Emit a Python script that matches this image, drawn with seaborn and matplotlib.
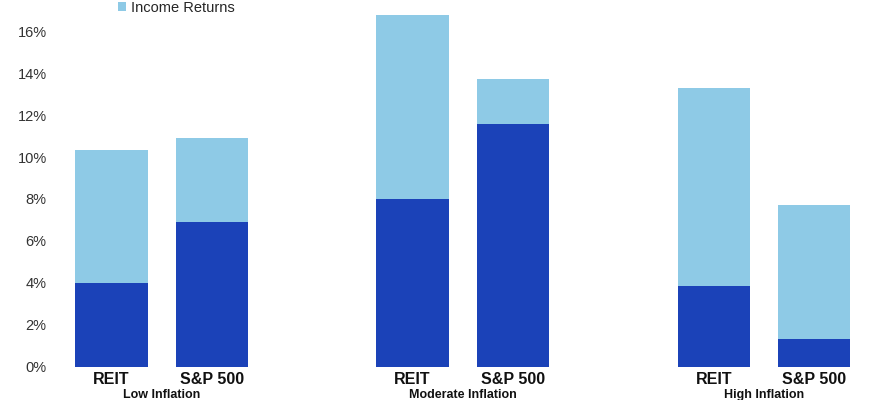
import matplotlib.pyplot as plt
import numpy as np
import pandas as pd
import seaborn as sns
from matplotlib.patches import Patch
from matplotlib.transforms import blended_transform_factory

# values (percent)
groups = ['Low Inflation', 'Moderate Inflation', 'High Inflation']
assets = ['REIT', 'S&P 500']
price_returns = [4.0, 6.92, 8.02, 11.56, 3.82, 1.29]
income_returns = [6.36, 3.97, 8.78, 2.19, 9.50, 6.40]
yticks = [0, 2, 4, 6, 8, 10, 12, 14, 16]

dark = '#1b42b8'
light = '#8ecae6'

# two bars per group, a gap of one slot between groups
pos = [0, 1, 3, 4, 6, 7]
df = pd.DataFrame({'pos': pos, 'price': price_returns, 'income': income_returns})
df['total'] = df['price'] + df['income']

sns.set_style('white')
plt.rcParams['font.family'] = ['Liberation Sans', 'DejaVu Sans']
narrow = ['Liberation Sans Narrow', 'Liberation Sans', 'DejaVu Sans']

fig = plt.figure(figsize=(8.7, 4), dpi=100)
ax = fig.add_axes([55 / 870, 33.5 / 400, 815 / 870, 366.5 / 400])

sns.barplot(data=df, x='pos', y='total', native_scale=True, color=light,
            saturation=1, width=0.72, errorbar=None, linewidth=0, ax=ax)
sns.barplot(data=df, x='pos', y='price', native_scale=True, color=dark,
            saturation=1, width=0.72, errorbar=None, linewidth=0, ax=ax)

ax.set_xlim(-0.563, 7.558)
ax.set_ylim(0, 17.5)
ax.set_yticks(yticks)
ax.set_yticklabels([f'{t}%' for t in yticks], fontsize=10.5, color='#333333')
ax.set_xticks(pos)
ax.set_xticklabels(assets * len(groups), fontsize=11.5, fontweight='bold',
                   family=narrow, color='#111111')
ax.tick_params(axis='both', length=0)
ax.tick_params(axis='y', pad=6)
ax.tick_params(axis='x', pad=4)
ax.set_xlabel('')
ax.set_ylabel('')
sns.despine(ax=ax, left=True, bottom=True)

# group names under the asset labels (kept inside the frame)
trans = blended_transform_factory(ax.transData, ax.transAxes)
for i, g in enumerate(groups):
    ax.text(pos[2 * i] + 0.5, -0.0605, g, transform=trans, ha='center', va='top',
            fontsize=9, fontweight='bold', family=narrow, color='#111111')

handles = [Patch(facecolor=light, edgecolor='none', label='Income Returns')]
fig.legend(handles=handles, loc='center left', bbox_to_anchor=(118 / 870, 1 - 8 / 400),
           frameon=False, fontsize=10.5, handlelength=0.55, handleheight=0.55,
           handletextpad=0.35, borderpad=0, borderaxespad=0)

plt.savefig('out.png', dpi=100)
